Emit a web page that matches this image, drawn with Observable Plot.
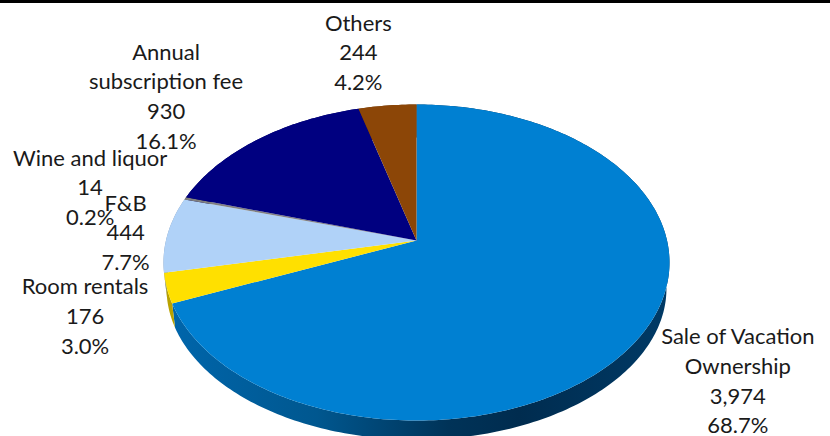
<!DOCTYPE html>
<html>
<head>
<meta charset="utf-8">
<script src="https://cdn.jsdelivr.net/npm/d3@7"></script>
<script src="https://cdn.jsdelivr.net/npm/@observablehq/plot@0.6"></script>
<style>
  html, body { margin: 0; padding: 0; background: #fff; }
  #bar { height: 3px; background: #000; }
  svg { display: block; }
</style>
</head>
<body>
<div id="bar"></div>
<div id="chart"></div>
<script>
// Revenue breakdown, clockwise from twelve o'clock
const categories = ["Sale of Vacation\nOwnership", "Room rentals", "F&B", "Wine and liquor", "Annual\nsubscription fee", "Others"];
const values = [3974, 176, 444, 14, 930, 244];
const palette = ["#0080d2", "#ffe000", "#b0d2f8", "#808080", "#000080", "#8c4607"];
const wallPalette = ["url(#wall)", "#b9a200", "#7f97b3", "#5c5c5c", "#00005c", "#653204"];

// Label centres, in the pie's unit coordinates
const labelX = [1.27, -1.31, -1.15, -1.29, -0.99, -0.23];
const labelY = [-0.74, -0.33, 0.2, 0.485, 1.063, 1.34];

// Tilted-disc geometry
const tilt = 0.87;           // foreshortening of angles around the apex
const apexY = 0.139;         // apex sits above the ellipse centre
const floorScaleX = 0.988;   // underside is slightly smaller than the top face
const floorScaleY = 0.956;
const floorDrop = 0.165;     // and lower by this much

const total = d3.sum(values);
const cumulative = d3.cumsum(values);

function rim(fraction) {
  const half = Math.PI * fraction;
  const t = 2 * Math.atan2(tilt * Math.sin(half), Math.cos(half));
  return [Math.sin(t), Math.cos(t)];
}

const faces = [];
const walls = [];
categories.forEach((name, i) => {
  const end = cumulative[i] / total;
  const start = end - values[i] / total;
  const n = Math.max(2, Math.ceil((end - start) * 360));
  const arc = d3.range(n + 1).map(j => rim(start + (end - start) * j / n));
  faces.push({name, x: 0, y: apexY});
  arc.forEach(([x, y]) => faces.push({name, x, y}));
  arc.forEach(([x, y]) => walls.push({name, x, y}));
  arc.slice().reverse().forEach(([x, y]) =>
    walls.push({name, x: x * floorScaleX, y: y * floorScaleY - floorDrop}));
});

const labels = categories.map((name, i) => ({
  text: `${name}\n${d3.format(",")(values[i])}\n${d3.format(".1%")(values[i] / total)}`,
  x: labelX[i],
  y: labelY[i]
}));

const wallGradient = () => {
  const defs = d3.create("svg:defs");
  const g = defs.append("linearGradient")
    .attr("id", "wall")
    .attr("gradientUnits", "userSpaceOnUse")
    .attr("x1", 165).attr("x2", 670).attr("y1", 0).attr("y2", 0);
  [[0, "#0066ac"], [0.3, "#00578f"], [0.56, "#003358"], [0.7, "#002c4f"], [1, "#003a66"]]
    .forEach(([o, c]) => g.append("stop").attr("offset", o).attr("stop-color", c));
  return defs.node();
};

const chart = Plot.plot({
  width: 830,
  height: 433,
  margin: 0,
  x: {domain: [-1, 1], range: [163, 669], axis: null},
  y: {domain: [-1, 1], range: [417, 101], axis: null},
  color: {domain: categories, range: palette},
  marks: [
    wallGradient,
    ...categories.map((name, i) =>
      Plot.line(walls.filter(d => d.name === name), {
        x: "x", y: "y", fill: wallPalette[i], stroke: "none"
      })),
    Plot.line(faces, {x: "x", y: "y", z: "name", fill: "name", stroke: "none"}),
    Plot.text(labels, {
      x: "x", y: "y", text: "text",
      fontFamily: "Lato", fontSize: 22, lineHeight: 1.35,
      fill: "#1a1a1a", textAnchor: "middle", lineAnchor: "middle"
    })
  ]
});
document.getElementById("chart").append(chart);
</script>
</body>
</html>
